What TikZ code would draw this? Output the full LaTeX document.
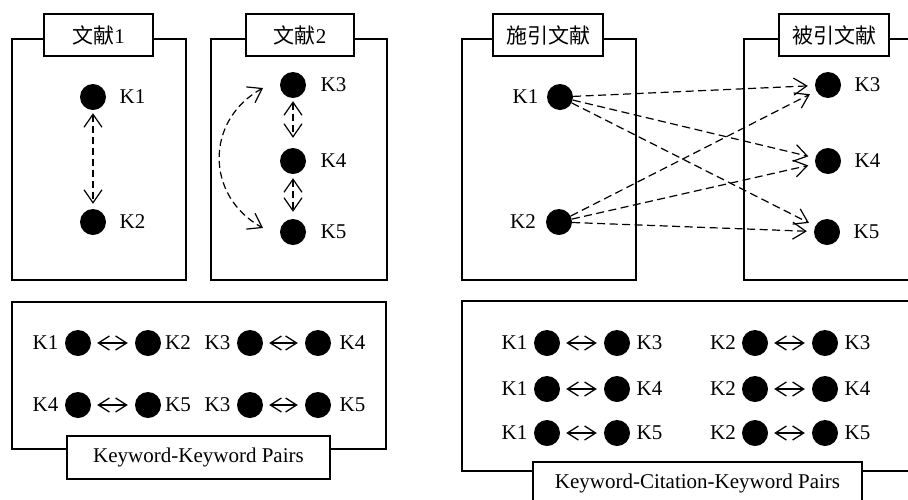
\documentclass[tikz,border=0pt]{standalone}
\usepackage{fontspec}
\setmainfont{Liberation Serif}
\newfontfamily\cjk{Noto Sans CJK SC}
\usetikzlibrary{arrows.meta}

% one keyword pair: label, dot, double arrow, dot, label
\newcommand\kwpair[8]{%
  \node[klabel] (#1l) at (#3,#2) {#7};
  \node[kdot] (#1a) at (#4,#2) {};
  \node[kdot] (#1b) at (#5,#2) {};
  \node[klabel] (#1r) at (#6,#2) {#8};
  \draw[pairlink] (#1a) -- (#1b);
}

\begin{document}
\begin{tikzpicture}[x=1pt,y=-1pt,
  panel/.style={draw, line width=1.2pt},
  titlebox/.style={draw, fill=white, line width=1.2pt, minimum height=42pt,
    inner sep=0pt, font=\fontsize{21}{24}\selectfont},
  kdot/.style={circle, fill=black, minimum size=26pt, inner sep=0pt},
  klabel/.style={inner sep=0pt, font=\fontsize{21}{24}\selectfont},
  cocc/.style={line width=1.2pt, dash pattern=on 7pt off 4pt,
    {Straight Barb[length=13pt,width=18pt]}-{Straight Barb[length=13pt,width=18pt]}},
  citelink/.style={line width=1.2pt, dash pattern=on 8pt off 4.5pt,
    -{Straight Barb[length=13pt,width=17pt]}, shorten >=7pt},
  pairlink/.style={line width=1.3pt,
    {Straight Barb[length=11pt,width=14pt]}-{Straight Barb[length=11pt,width=14pt]},
    shorten <=6pt, shorten >=7pt},
]
\useasboundingbox (0,0) rectangle (908,499);
\clip (0,0) rectangle (908,499);

% ---------- document 1 ----------
\draw[panel] (12,39) rectangle (186,280);
\node[titlebox, minimum width=109pt] (t1) at (98.5,35) {{\cjk 文献}1};
\node[kdot] (a1) at (93,97) {};
\node[kdot] (a2) at (93,222) {};
\node[klabel] (la1) at (132.5,97) {K1};
\node[klabel] (la2) at (132.5,222) {K2};
\draw[cocc, shorten <=3pt, shorten >=5pt] (a1) -- (a2);

% ---------- document 2 ----------
\draw[panel] (211,39) rectangle (387,280);
\node[titlebox, minimum width=108pt] (t2) at (300,35) {{\cjk 文献}2};
\node[kdot] (b3) at (293,85) {};
\node[kdot] (b4) at (293,161) {};
\node[kdot] (b5) at (293,232) {};
\node[klabel] (lb3) at (333.5,85) {K3};
\node[klabel] (lb4) at (333.5,161) {K4};
\node[klabel] (lb5) at (333.5,232) {K5};
\draw[cocc, shorten <=3pt, shorten >=10pt] (b3) -- (b4);
\draw[cocc, shorten <=4pt, shorten >=7pt] (b4) -- (b5);
\coordinate (arcTop) at (263,88);
\coordinate (arcBot) at (263,228);
\draw[cocc] (arcTop) .. controls (205,120) and (205,196) .. (arcBot);

% ---------- citing document ----------
\draw[panel] (462,39) rectangle (636,280);
\node[titlebox, minimum width=110pt] (t3) at (548,35) {\cjk 施引文献};
\node[kdot] (c1) at (560,97) {};
\node[kdot] (c2) at (559,222) {};
\node[klabel] (lc1) at (525.5,97) {K1};
\node[klabel] (lc2) at (523,222) {K2};

% ---------- cited document ----------
\draw[panel] (744,39) rectangle (940,280);
\node[titlebox, minimum width=110pt] (t4) at (834,35) {\cjk 被引文献};
\node[kdot] (d3) at (828,85) {};
\node[kdot] (d4) at (828,161) {};
\node[kdot] (d5) at (827,232) {};
\node[klabel] (ld3) at (867.5,85) {K3};
\node[klabel] (ld4) at (867.5,161) {K4};
\node[klabel] (ld5) at (866.5,232) {K5};

\foreach \s in {c1,c2}
  \foreach \t in {d3,d4,d5}
    \draw[citelink] (\s) -- (\t);

% ---------- keyword-keyword pairs ----------
\draw[panel] (12,302) rectangle (386,449);
\node[titlebox, minimum width=263pt, minimum height=43pt] (t5) at (198.5,457.5) {Keyword-Keyword Pairs};
\kwpair{p1}{343}{45.5}{78}{148}{178}{K1}{K2}
\kwpair{p2}{343}{217.5}{250}{318}{352.5}{K3}{K4}
\kwpair{p3}{405}{45.5}{78}{148}{178}{K4}{K5}
\kwpair{p4}{405}{217.5}{250}{318}{352.5}{K3}{K5}

% ---------- keyword-citation-keyword pairs ----------
\draw[panel] (462,301) rectangle (940,471);
\node[titlebox, minimum width=329pt, minimum height=43pt] (t6) at (697.5,483.5) {Keyword-Citation-Keyword Pairs};
\kwpair{q1}{343}{514.5}{547}{617}{649.5}{K1}{K3}
\kwpair{q2}{389}{514.5}{547}{617}{649.5}{K1}{K4}
\kwpair{q3}{433}{514.5}{547}{617}{649.5}{K1}{K5}
\kwpair{q4}{343}{723}{755}{825}{857.5}{K2}{K3}
\kwpair{q5}{389}{723}{755}{825}{857.5}{K2}{K4}
\kwpair{q6}{433}{723}{755}{825}{857.5}{K2}{K5}
\end{tikzpicture}
\end{document}
